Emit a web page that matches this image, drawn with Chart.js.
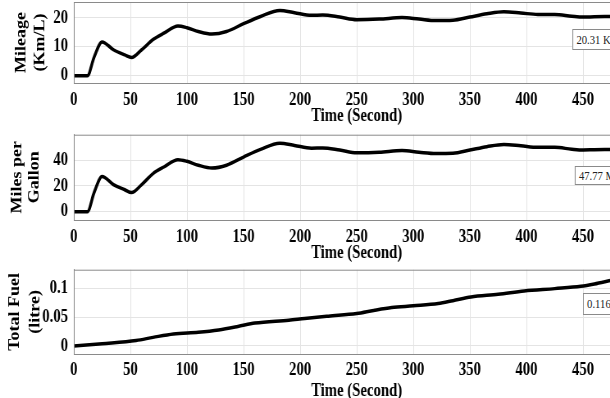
<!DOCTYPE html>
<html>
<head>
<meta charset="utf-8">
<script src="https://cdn.jsdelivr.net/npm/chart.js@4"></script>
<style>
  html, body { margin: 0; padding: 0; background: #fff; overflow: hidden; width: 610px; height: 398px; }
  #wrap { position: absolute; left: 0; top: 0; width: 800px; height: 404px; transform: scaleX(0.82); transform-origin: 0 0; }
  canvas { position: absolute; left: 0; }
  .tag { position: absolute; background: #fff; border: 1px solid #8a8a8a; font: 13px "Liberation Serif", serif; color: #222; padding: 0 4px; box-sizing: border-box; white-space: nowrap; }
</style>
</head>
<body>
<div id="wrap">
  <canvas id="mileageChart" width="800" height="127" style="top:0px"></canvas>
  <canvas id="mpgChart" width="800" height="134" style="top:130px"></canvas>
  <canvas id="fuelChart" width="800" height="137" style="top:265px"></canvas>
  <div class="tag" style="left:698px; top:29px; height:21px; line-height:19px">20.31 Km/L</div>
  <div class="tag" style="left:701px; top:166px; height:19px; line-height:17px">47.77 MPG</div>
  <div class="tag" style="left:711px; top:293px; height:22px; line-height:20px">0.116 litre</div>
</div>
<script>
// time axis (seconds) for mileage / mpg traces
const timeSec = [0, 12, 18, 25, 35, 45, 51, 60, 70, 80, 92, 100, 110, 122, 135, 150, 165, 182, 195, 210, 220, 235, 250, 270, 290, 305, 320, 335, 350, 365, 380, 395, 410, 425, 440, 450, 460, 474];
const mileage = [0, 0, 6.5, 11.7, 9, 7.2, 6.3, 9, 12.5, 14.8, 17.2, 16.6, 15.3, 14.4, 15.3, 18, 20.5, 22.6, 21.8, 20.9, 21, 20.3, 19.4, 19.6, 20.1, 19.6, 19.1, 19.2, 20.3, 21.4, 22.1, 21.7, 21.2, 21.2, 20.6, 20.3, 20.4, 20.5];
const mpg = [0, 0, 15, 27.3, 21, 17, 14.8, 21, 29.5, 34.8, 40.3, 39, 36, 33.8, 36, 42.3, 48.2, 53, 51.3, 49.2, 49.4, 47.7, 45.6, 46, 47.3, 46, 45, 45.2, 47.7, 50.3, 52, 51, 49.8, 49.8, 48.4, 47.8, 48, 48.2];

const fuelTime = [0, 25, 55, 70, 88, 110, 128, 145, 160, 190, 204, 225, 250, 265, 281, 300, 322, 335, 351, 375, 398, 425, 448, 460, 474];
const totalFuel = [0, 0.004, 0.0095, 0.015, 0.021, 0.024, 0.028, 0.034, 0.040, 0.045, 0.048, 0.052, 0.0565, 0.062, 0.067, 0.07, 0.074, 0.079, 0.0855, 0.09, 0.096, 0.1, 0.104, 0.108, 0.114];

const xTicks = [0, 50, 100, 150, 200, 250, 300, 350, 400, 450, 500];
const mileageTicks = [0, 10, 20];
const mpgTicks = [0, 20, 40];
const fuelTicks = [0, 0.05, 0.1];

const FONT = "'Liberation Serif', 'Times New Roman', serif";

const frame = {
  id: "frame",
  afterDraw(chart) {
    const a = chart.chartArea, ctx = chart.ctx;
    ctx.save();
    ctx.strokeStyle = "#8a8a8a";
    ctx.lineWidth = 1;
    ctx.strokeRect(a.left + 0.5, a.top + 0.5, a.right - a.left, a.bottom - a.top);
    ctx.restore();
  }
};

function makeChart(id, xs, ys, yTicks, ymin, ymax, yTitle, o) {
  new Chart(document.getElementById(id), {
    type: "line",
    data: {
      datasets: [{
        data: xs.map((x, i) => ({ x: x, y: ys[i] })),
        borderColor: "#000",
        borderWidth: 3.5,
        pointRadius: 0,
        tension: 0.4,
        cubicInterpolationMode: "monotone",
        fill: false
      }]
    },
    options: {
      responsive: false,
      animation: false,
      layout: { padding: { top: o.top, right: 20, left: 0, bottom: 0 } },
      plugins: { legend: { display: false }, tooltip: { enabled: false } },
      scales: {
        x: {
          type: "linear", min: 0, max: 500,
          afterBuildTicks: s => { s.ticks = xTicks.map(v => ({ value: v })); },
          afterFit: s => { s.height = o.xh; s.paddingLeft = 0; s.paddingRight = 0; },
          grid: { color: "#e4e4e4", drawTicks: false },
          border: { color: "#8a8a8a" },
          ticks: { autoSkip: false, maxRotation: 0, padding: o.tp, color: "#000", font: { family: FONT, size: 18, weight: "bold" } },
          title: { display: true, text: "Time (Second)", color: "#000", padding: { top: 0, bottom: o.tb }, font: { family: FONT, size: 18, weight: "bold", lineHeight: 1.2 } }
        },
        y: {
          min: ymin, max: ymax,
          afterBuildTicks: s => { s.ticks = yTicks.map(v => ({ value: v })); },
          afterFit: s => { s.width = 90; s.paddingTop = 0; s.paddingBottom = 0; },
          grid: { color: "#e4e4e4", drawTicks: false },
          border: { color: "#8a8a8a" },
          ticks: { padding: 7, color: "#000", callback: v => String(v), font: { family: FONT, size: 18, weight: "bold" } },
          title: { display: true, text: yTitle, color: "#000", padding: { top: o.yp, bottom: 0 }, font: { family: FONT, size: 18, weight: "bold", lineHeight: o.ylh } }
        }
      }
    },
    plugins: [frame]
  });
}

makeChart("mileageChart", timeSec, mileage, mileageTicks, -2.5, 25.5, ["Mileage", "(Km/L)"], { top: 2, xh: 44, tp: 6.5, tb: 0, yp: 15, ylh: 1.28 });
makeChart("mpgChart", timeSec, mpg, mpgTicks, -6.4, 59.6, ["Miles per", "Gallon"], { top: 4.7, xh: 44, tp: 7, tb: 0, yp: 11, ylh: 1.17 });
makeChart("fuelChart", fuelTime, totalFuel, fuelTicks, -0.014, 0.133, ["Total Fuel", "(litre)"], { top: 4.7, xh: 48, tp: 5.5, tb: 0, yp: 6, ylh: 1.4 });
</script>
</body>
</html>
